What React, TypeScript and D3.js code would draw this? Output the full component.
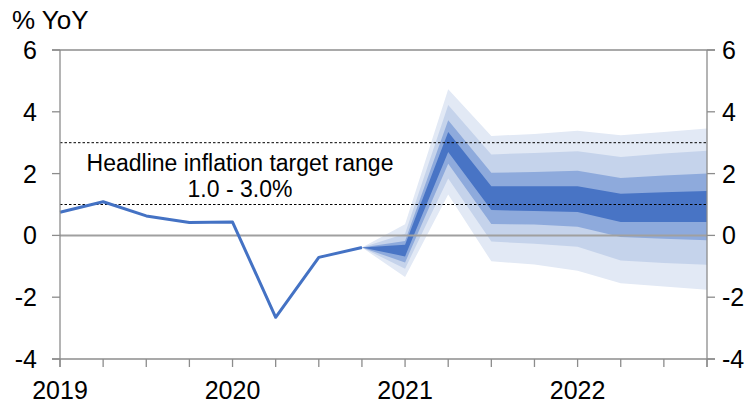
import React from "react";
import * as d3 from "d3";

const quarters = [
  "2019Q1", "2019Q2", "2019Q3", "2019Q4",
  "2020Q1", "2020Q2", "2020Q3", "2020Q4",
  "2021Q1", "2021Q2", "2021Q3", "2021Q4",
  "2022Q1", "2022Q2", "2022Q3", "2022Q4",
];
const yearLabels = ["2019", "2020", "2021", "2022"];
const yearQuarters = ["2019Q1", "2020Q1", "2021Q1", "2022Q1"];
const yTicks = [-4, -2, 0, 2, 4, 6];

// Actual headline inflation (% YoY)
const actual = [0.75, 1.09, 0.63, 0.42, 0.43, -2.65, -0.71, -0.39];

// Fan chart (projection), quarters 2020Q4 .. 2022Q4
const fanQuarters = quarters.slice(7);
const outerTop = [-0.39, 0.36, 4.73, 3.22, 3.28, 3.39, 3.24, 3.35, 3.46];
const secondTop = [-0.39, 0.05, 4.22, 2.62, 2.67, 2.72, 2.54, 2.65, 2.74];
const thirdTop = [-0.39, -0.18, 3.73, 2.03, 2.05, 2.09, 1.86, 1.94, 2.0];
const darkTop = [-0.39, -0.3, 3.35, 1.59, 1.59, 1.59, 1.35, 1.4, 1.44];
const darkBot = [-0.39, -0.68, 2.7, 0.82, 0.79, 0.76, 0.43, 0.43, 0.43];
const thirdBot = [-0.39, -0.88, 2.32, 0.37, 0.35, 0.28, -0.05, -0.11, -0.16];
const secondBot = [-0.39, -1.08, 1.84, -0.2, -0.27, -0.37, -0.81, -0.89, -0.95];
const outerBot = [-0.39, -1.35, 1.32, -0.84, -0.94, -1.14, -1.55, -1.65, -1.76];

const targetLow = 1.0;
const targetHigh = 3.0;

const W = 755;
const H = 408;
const FONT = "'Liberation Sans', Arial, Helvetica, sans-serif";

export default function App() {
  const x = d3.scalePoint<string>().domain(quarters).range([60, 707]);
  const y = d3.scaleLinear().domain([-4, 6]).range([359, 50]);
  const x0 = 60;
  const x1 = 707;
  const axisColor = "#8c8c8c";

  const bands = [
    { lo: outerBot, hi: outerTop, color: "#e2e9f5" },
    { lo: secondBot, hi: secondTop, color: "#c5d3eb" },
    { lo: thirdBot, hi: thirdTop, color: "#8eaadc" },
    { lo: darkBot, hi: darkTop, color: "#4874c5" },
  ];

  const area = (lo: number[], hi: number[]) =>
    d3
      .area<number>()
      .x((_, i) => x(fanQuarters[i]) as number)
      .y0((_, i) => y(lo[i]))
      .y1((_, i) => y(hi[i]))(lo.map((_, i) => i)) as string;

  const line = d3
    .line<number>()
    .x((_, i) => x(quarters[i]) as number)
    .y((d) => y(d))(actual) as string;

  return (
    <svg
      width={W}
      height={H}
      style={{ position: "absolute", left: 0, top: 0, background: "#fff" }}
      fontFamily={FONT}
    >
      {bands.map((b, i) => (
        <path key={i} d={area(b.lo, b.hi)} fill={b.color} />
      ))}

      {/* zero line */}
      <line x1={x0} x2={x1} y1={y(0)} y2={y(0)} stroke="#a0a0a0" strokeWidth={2} />

      {/* target range dotted lines */}
      {[targetHigh, targetLow].map((v) => (
        <line
          key={v}
          x1={x0}
          x2={x1}
          y1={y(v)}
          y2={y(v)}
          stroke="#000"
          strokeWidth={1}
          strokeDasharray="2.5,2"
        />
      ))}

      {/* actual line */}
      <path d={line} fill="none" stroke="#4472c4" strokeWidth={3} strokeLinejoin="round" />

      {/* frame */}
      <line x1={52} x2={715} y1={y(6)} y2={y(6)} stroke={axisColor} strokeWidth={1.3} />
      <line x1={52} x2={715} y1={y(-4)} y2={y(-4)} stroke={axisColor} strokeWidth={1.3} />
      <line x1={x0} x2={x0} y1={y(6)} y2={y(-4) + 8} stroke={axisColor} strokeWidth={1.3} />
      <line x1={x1} x2={x1} y1={y(6)} y2={y(-4) + 8} stroke={axisColor} strokeWidth={1.3} />

      {/* y ticks */}
      {yTicks.map((t) => (
        <g key={t}>
          <line x1={52} x2={x0} y1={y(t)} y2={y(t)} stroke={axisColor} strokeWidth={1.3} />
          <line x1={x1} x2={715} y1={y(t)} y2={y(t)} stroke={axisColor} strokeWidth={1.3} />
          <text x={37} y={y(t) + 9} textAnchor="end" fontSize={25} fill="#000">
            {t}
          </text>
          <text x={722} y={y(t) + 9} textAnchor="start" fontSize={25} fill="#000">
            {t}
          </text>
        </g>
      ))}

      {/* x ticks */}
      {quarters.map((q) => (
        <line
          key={q}
          x1={x(q)}
          x2={x(q)}
          y1={y(-4)}
          y2={y(-4) + 8}
          stroke={axisColor}
          strokeWidth={1.3}
        />
      ))}
      {yearLabels.map((lab, i) => (
        <text key={lab} x={x(yearQuarters[i])} y={399} textAnchor="middle" fontSize={25} fill="#000">
          {lab}
        </text>
      ))}

      {/* unit label */}
      <text x={12} y={29} fontSize={26} fill="#000">
        % YoY
      </text>

      {/* annotation */}
      <text x={240} y={171} textAnchor="middle" fontSize={23} fill="#000">
        Headline inflation target range
      </text>
      <text x={240} y={197} textAnchor="middle" fontSize={23} fill="#000">
        1.0 - 3.0%
      </text>
    </svg>
  );
}
